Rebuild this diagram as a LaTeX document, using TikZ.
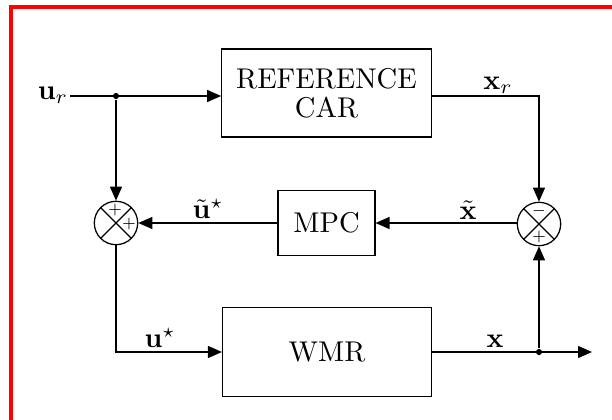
\documentclass[tikz,border=0pt]{standalone}
\usepackage{amsmath}
\usetikzlibrary{arrows.meta}
\tikzset{
  blk/.style={draw, line width=0.45pt, inner sep=0pt, align=center, font=\fontsize{10.2}{10.4}\selectfont},
  sumnode/.style={draw, circle, line width=0.45pt, minimum size=15.5pt, inner sep=0pt, fill=white,
    path picture={\draw[line width=0.45pt] (path picture bounding box.north west) -- (path picture bounding box.south east)
      (path picture bounding box.north east) -- (path picture bounding box.south west);}},
  sgn/.style={inner sep=0pt, font=\tiny},
  lbl/.style={inner sep=0.5pt, font=\normalsize},
  wire/.style={line width=0.45pt},
  arr/.style={wire, -{Triangle[length=5pt,width=4.3pt]}},
  jdot/.style={circle, fill=black, inner sep=0pt, minimum size=2.2pt}
}
\begin{document}
\begin{tikzpicture}[x=0.357143pt,y=-0.357143pt]
\useasboundingbox (0,0) rectangle (612,420);
\draw[red, line width=1.1pt] (11,425) -- (11,7) -- (615,7);

% blocks
\node[blk, minimum width=74.8pt, minimum height=31.4pt] (ref) at (326.5,93) {REFERENCE\\CAR};
\node[blk, minimum width=34.6pt, minimum height=23.2pt] (mpc) at (326.5,223) {MPC};
\node[blk, minimum width=74.6pt, minimum height=31.8pt] (wmr) at (327,352) {WMR};

% summing junctions
\node[sumnode] (sumL) at (116,223) {};
\node[sgn] (sLa) at (115,210) {$+$};
\node[sgn] (sLb) at (129,224) {$+$};
\node[sumnode] (sumR) at (539,224) {};
\node[sgn] (sRa) at (539,211) {$-$};
\node[sgn] (sRb) at (539,237) {$+$};

% input and junctions
\node[lbl, anchor=east] (ur) at (70,95.5) {$\mathbf{u}_r$};
\node[jdot] (j1) at (116,96) {};
\node[jdot] (j2) at (539,352) {};
\coordinate (out) at (592,352);

% connectors
\draw[arr] (ur.east |- j1) -- (j1 -| ref.west);
\draw[arr] (j1) -- (sumL.north);
\draw[arr] (ref.east |- j1) -| (sumR.north);
\draw[arr] (sumR.west |- mpc) -- (mpc.east);
\draw[arr] (mpc.west) -- (sumL.east);
\draw[arr] (sumL.south) |- (wmr.west);
\draw[arr] (wmr.east) -- (out);
\draw[arr] (j2) -- (sumR.south);

% labels
\node[lbl] (lxr) at (498,85) {$\mathbf{x}_r$};
\node[lbl] (lut) at (208,209) {$\tilde{\mathbf{u}}^{\star}$};
\node[lbl] (lxt) at (468,210) {$\tilde{\mathbf{x}}$};
\node[lbl] (lus) at (160,338) {$\mathbf{u}^{\star}$};
\node[lbl] (lx) at (495,341) {$\mathbf{x}$};
\end{tikzpicture}
\end{document}
